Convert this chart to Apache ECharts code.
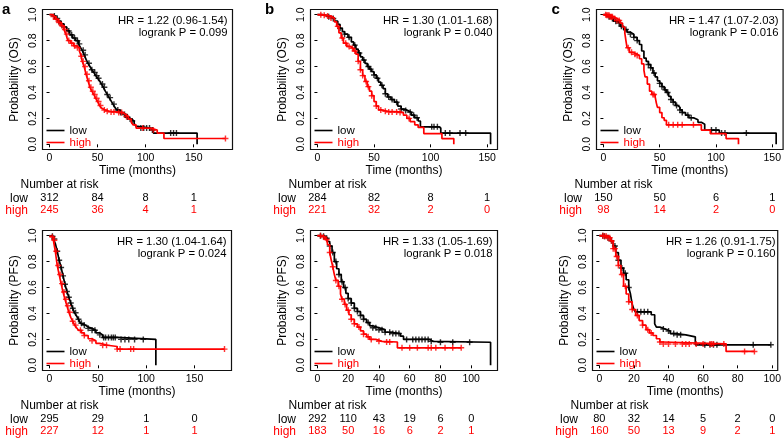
<!DOCTYPE html>
<html><head><meta charset="utf-8">
<script src="https://cdn.jsdelivr.net/npm/echarts@6/dist/echarts.min.js"></script>
<style>html,body{margin:0;padding:0;background:#fff}#chart{width:784px;height:439px}</style>
</head><body><div id="chart"></div>
<script>
// ---------------- DATA ----------------
const yTicks = [0, 0.2, 0.4, 0.6, 0.8, 1.0];
const yTitleOS = 'Probability (OS)';
const yTitlePFS = 'Probability (PFS)';
const xTitle = 'Time (months)';

// Panel a (OS)
const osA_low = [[0,1],[3,0.99],[6,0.97],[9,0.95],[12,0.93],[15,0.905],[18,0.875],[21,0.845],[24,0.82],[27,0.8],[30,0.775],[32,0.75],[34,0.725],[36,0.69],[38,0.655],[40,0.625],[42,0.6],[44,0.575],[46,0.555],[48,0.53],[50,0.51],[52,0.49],[54,0.465],[56,0.44],[58,0.41],[60,0.385],[62,0.36],[64,0.335],[66,0.31],[68,0.285],[70,0.265],[73,0.245],[76,0.23],[79,0.21],[82,0.195],[85,0.18],[88,0.16],[90,0.14],[92,0.125],[105,0.11],[108,0.087],[153.5,0]];
const osA_high = [[0,1],[3,0.985],[6,0.965],[9,0.94],[12,0.915],[15,0.885],[17,0.85],[19,0.8],[22,0.78],[25,0.76],[28,0.745],[31,0.72],[33,0.68],[34,0.64],[36,0.6],[38,0.54],[40,0.49],[42,0.44],[44,0.41],[46,0.385],[48,0.355],[50,0.33],[52,0.3],[54,0.28],[56,0.265],[58,0.255],[62,0.25],[70,0.245],[76,0.23],[79,0.215],[82,0.195],[85,0.17],[87,0.15],[90,0.125],[105,0.11],[112,0.087],[119,0.045],[183,0.045]];
const osA_lowCensor = [5,8,12,15,20,23,26,29,31,35,37,41,44,47,49,51,55,57,60,63,67,71,74,78,81,86,95,98,101,104,107,126,129,132];
const osA_highCensor = [4,7,10,13,16,18,20,23,26,29,33,35,37,39,41,43,45,47,49,51,53,57,60,64,67,72,75,80,97,108,183];
const osA_ticks = [0,50,100,150];
const osA_riskLow = [312,84,8,1];
const osA_riskHigh = [245,36,4,1];
const osA_stats = ['HR = 1.22 (0.96-1.54)','logrank P = 0.099'];

// Panel b (OS)
const osB_low = [[0,1],[4,0.995],[8,0.985],[12,0.97],[15,0.95],[18,0.925],[20,0.895],[22,0.87],[24,0.85],[27,0.825],[30,0.79],[32,0.765],[34,0.735],[36,0.705],[38,0.675],[40,0.65],[42,0.625],[44,0.6],[46,0.58],[48,0.56],[50,0.535],[52,0.51],[54,0.48],[56,0.455],[58,0.43],[60,0.39],[62,0.365],[65,0.345],[68,0.325],[71,0.295],[74,0.272],[77,0.26],[80,0.248],[83,0.225],[86,0.205],[89,0.18],[91,0.135],[107,0.125],[109,0.087],[153,0]];
const osB_high = [[0,1],[4,0.995],[8,0.99],[12,0.975],[15,0.945],[17,0.91],[19,0.86],[21,0.82],[23,0.78],[26,0.755],[29,0.74],[32,0.72],[34,0.695],[36,0.64],[38,0.575],[40,0.53],[42,0.485],[44,0.445],[46,0.41],[48,0.375],[50,0.33],[52,0.295],[54,0.265],[57,0.255],[62,0.25],[72,0.245],[76,0.225],[79,0.2],[82,0.175],[86,0.15],[89,0.13],[94,0.083],[110,0.044],[120.5,0]];
const osB_lowCensor = [10,14,20,24,28,33,37,41,45,47,50,53,57,60,63,66,70,74,78,82,85,88,101,103,106,113,117,126,131];
const osB_highCensor = [3,6,9,12,18,22,25,28,31,33,36,38,40,43,45,48,52,56,60,63,66,70,73,81];
const osB_ticks = [0,50,100,150];
const osB_riskLow = [284,82,8,1];
const osB_riskHigh = [221,32,2,0];
const osB_stats = ['HR = 1.30 (1.01-1.68)','logrank P = 0.040'];

// Panel c (OS)
const osC_low = [[0,1],[3,0.985],[6,0.97],[9,0.95],[12,0.935],[15,0.91],[18,0.885],[21,0.865],[24,0.85],[27,0.825],[30,0.8],[32,0.77],[34,0.72],[36,0.665],[38,0.64],[40,0.615],[42,0.59],[44,0.55],[46,0.52],[48,0.49],[50,0.47],[52,0.445],[54,0.42],[56,0.4],[58,0.37],[60,0.345],[62,0.325],[64,0.3],[66,0.285],[68,0.265],[70,0.245],[73,0.225],[76,0.205],[80,0.19],[84,0.17],[87,0.155],[90,0.11],[103,0.087],[153.5,0]];
const osC_high = [[0,1],[3,0.995],[6,0.985],[9,0.97],[12,0.955],[15,0.935],[17,0.905],[19,0.86],[20,0.8],[21,0.745],[23,0.71],[26,0.695],[30,0.685],[32,0.66],[34,0.62],[36,0.57],[37,0.52],[39,0.465],[41,0.41],[43,0.385],[46,0.365],[47,0.32],[48,0.285],[50,0.245],[52,0.205],[54,0.185],[56,0.15],[87,0.11],[95,0.082],[109,0.044],[120,0]];
const osC_lowCensor = [5,8,11,14,16,20,24,27,30,40,42,45,50,52,55,57,60,62,65,68,70,75,78,96,100,105,108,127];
const osC_highCensor = [2,3,4,5,6,7,8,10,12,14,22,25,28,30,44,45,58,62,66,70,80];
const osC_ticks = [0,50,100,150];
const osC_riskLow = [150,50,6,1];
const osC_riskHigh = [98,14,2,0];
const osC_stats = ['HR = 1.47 (1.07-2.03)','logrank P = 0.016'];

// Panel a (PFS)
const pfsA_low = [[0,1],[2,0.995],[4,0.975],[6,0.94],[8,0.88],[10,0.81],[12,0.755],[14,0.69],[16,0.625],[18,0.57],[20,0.525],[22,0.48],[24,0.44],[26,0.405],[28,0.38],[30,0.355],[32,0.325],[34,0.31],[37,0.295],[40,0.285],[44,0.27],[48,0.25],[52,0.235],[55,0.215],[70,0.2],[110,0]];
const pfsA_high = [[0,1],[2,0.99],[4,0.965],[6,0.88],[8,0.77],[10,0.7],[12,0.63],[14,0.565],[16,0.51],[18,0.46],[20,0.41],[22,0.37],[24,0.34],[26,0.31],[28,0.29],[30,0.27],[33,0.25],[36,0.23],[40,0.205],[44,0.19],[48,0.17],[52,0.155],[60,0.145],[70,0.125],[181,0.125]];
const pfsA_lowCensor = [3,5,8,10,12,14,16,18,20,22,24,27,30,33,36,40,44,47,52,56,58,61,64,66,68,74,78,82,88,97];
const pfsA_highCensor = [3,5,7,9,11,13,15,17,19,21,24,27,32,36,44,55,59,70,73,84,87,181];
const pfsA_ticks = [0,50,100,150];
const pfsA_riskLow = [295,29,1,0];
const pfsA_riskHigh = [227,12,1,1];
const pfsA_stats = ['HR = 1.30 (1.04-1.64)','logrank P = 0.024'];

// Panel b (PFS)
const pfsB_low = [[0,1],[3,0.995],[5,0.98],[6.5,0.955],[8,0.92],[9.5,0.87],[11,0.8],[12.5,0.745],[14,0.7],[15.5,0.645],[17,0.6],[18.5,0.555],[20,0.515],[22,0.48],[24,0.44],[26,0.415],[28,0.385],[30,0.355],[32,0.33],[34,0.305],[36,0.29],[40,0.275],[44,0.255],[48,0.245],[54,0.225],[56,0.2],[73,0.185],[75,0.178],[112.6,0]];
const pfsB_high = [[0,1],[3,0.99],[5,0.97],[6.5,0.93],[8,0.87],[9,0.81],[10,0.76],[11,0.7],[12,0.655],[13.5,0.61],[15,0.55],[16,0.51],[17.5,0.47],[19,0.425],[20.5,0.39],[22,0.355],[24,0.32],[26,0.295],[28,0.265],[30,0.24],[32,0.22],[34,0.2],[38,0.185],[42,0.18],[52,0.135],[93.5,0.135]];
const pfsB_lowCensor = [2,4,6,8,10,12,14,16,18,20,22,24,26,28,30,33,36,38,40,42,44,47,49,51,53,58,62,64,66,68,70,72,74,80,88,99];
const pfsB_highCensor = [2,4,6,8,10,12,14,16,18,20,22,24,27,30,33,35,40,45,47,55,60,65,72,74,77,83,88,93.5];
const pfsB_ticks = [0,20,40,60,80,100];
const pfsB_riskLow = [292,110,43,19,6,0];
const pfsB_riskHigh = [183,50,16,6,2,1];
const pfsB_stats = ['HR = 1.33 (1.05-1.69)','logrank P = 0.018'];

// Panel c (PFS)
const pfsC_low = [[0,1],[3,0.995],[5,0.985],[6.5,0.96],[8,0.92],[9.5,0.87],[11,0.81],[12.5,0.75],[14,0.71],[15.5,0.66],[17,0.6],[18,0.55],[19,0.47],[20,0.43],[21,0.413],[30,0.39],[32,0.32],[33,0.295],[35,0.28],[38,0.265],[41,0.245],[44,0.235],[50,0.22],[55.5,0.158],[99.2,0.158]];
const pfsC_high = [[0,1],[3,0.995],[5,0.985],[6.5,0.96],[8,0.9],[9.5,0.84],[11,0.77],[12.5,0.7],[14,0.61],[15.5,0.55],[17,0.49],[19,0.43],[21,0.385],[23,0.345],[25,0.31],[27,0.275],[29,0.25],[31,0.23],[33,0.205],[35,0.18],[36.5,0.165],[73.3,0.107],[89.7,0.107]];
const pfsC_lowCensor = [2,3,5,7,9,11,13,15,17,22,24,26,28,37,40,43,45,47,61,64,66,68,89,99.2];
const pfsC_highCensor = [2,3,4,5,6,7,8,9,10,11,13,15,17,19,22,25,28,30,35,37,40,44,48,50,52,56,60,64,65,66,72,84,89.7];
const pfsC_ticks = [0,20,40,60,80,100];
const pfsC_riskLow = [80,32,14,5,2,0];
const pfsC_riskHigh = [160,50,13,9,2,1];
const pfsC_stats = ['HR = 1.26 (0.91-1.75)','logrank P = 0.160'];

// ---------------- LAYOUT / BUILD ----------------
const FONT = '"Liberation Sans", Arial, Helvetica, sans-serif';
const RED = '#ff0000';
const layouts = [
  {left:42.5, top:9.5, width:190, height:140, letter:'a', lx:2, ly:10},
  {left:310.5, top:9.5, width:187, height:140, letter:'b', lx:265, ly:10},
  {left:596.5, top:9.5, width:187, height:140, letter:'c', lx:551.5, ly:10},
  {left:42.5, top:230.5, width:189, height:140},
  {left:310.5, top:230.5, width:187, height:140},
  {left:592.5, top:230.5, width:188, height:140}
];
const panels = [
  {low:osA_low, high:osA_high, lowC:osA_lowCensor, highC:osA_highCensor, ticks:osA_ticks, rl:osA_riskLow, rh:osA_riskHigh, stats:osA_stats, ylab:yTitleOS},
  {low:osB_low, high:osB_high, lowC:osB_lowCensor, highC:osB_highCensor, ticks:osB_ticks, rl:osB_riskLow, rh:osB_riskHigh, stats:osB_stats, ylab:yTitleOS},
  {low:osC_low, high:osC_high, lowC:osC_lowCensor, highC:osC_highCensor, ticks:osC_ticks, rl:osC_riskLow, rh:osC_riskHigh, stats:osC_stats, ylab:yTitleOS},
  {low:pfsA_low, high:pfsA_high, lowC:pfsA_lowCensor, highC:pfsA_highCensor, ticks:pfsA_ticks, rl:pfsA_riskLow, rh:pfsA_riskHigh, stats:pfsA_stats, ylab:yTitlePFS},
  {low:pfsB_low, high:pfsB_high, lowC:pfsB_lowCensor, highC:pfsB_highCensor, ticks:pfsB_ticks, rl:pfsB_riskLow, rh:pfsB_riskHigh, stats:pfsB_stats, ylab:yTitlePFS},
  {low:pfsC_low, high:pfsC_high, lowC:pfsC_lowCensor, highC:pfsC_highCensor, ticks:pfsC_ticks, rl:pfsC_riskLow, rh:pfsC_riskHigh, stats:pfsC_stats, ylab:yTitlePFS}
];
const CROSS = 'path://M0,3.8L10,3.8L10,6.2L0,6.2Z M3.8,0L6.2,0L6.2,10L3.8,10Z';

function survAt(curve, t) {
  let s = curve[0][1];
  for (const p of curve) { if (p[0] <= t) s = p[1]; else break; }
  return s;
}
function txt(x, y, text, opt) {
  opt = opt || {};
  const align = opt.align || 'left';
  return {type:'text', x:x, y:y, silent:true, z:100,
    style:{text:text, fill:opt.color || '#000', font:opt.font || ('11.3px ' + FONT),
      align:align, textAlign:align, verticalAlign:'middle', textVerticalAlign:'middle'}};
}

const grid = [], xAxis = [], yAxis = [], series = [], legend = [], graphic = [];
panels.forEach((p, i) => {
  const L = layouts[i];
  const B = L.top + L.height, R = L.left + L.width;
  grid.push({left:L.left, top:L.top, width:L.width, height:L.height, show:true,
    borderColor:'#111', borderWidth:1.2, backgroundColor:'rgba(0,0,0,0)'});
  const tmax = Math.max(...p.low.map(d => d[0]), ...p.high.map(d => d[0]), ...p.lowC, ...p.highC);
  const xmin = -0.04 * tmax, xmax = 1.04 * tmax;
  xAxis.push({gridIndex:i, type:'value', min:xmin, max:xmax, position:'bottom',
    axisLine:{show:false}, splitLine:{show:false},
    axisTick:{show:true, length:3, customValues:p.ticks, lineStyle:{color:'#000', width:1}},
    axisLabel:{customValues:p.ticks, fontSize:10.5, color:'#000', margin:9, verticalAlign:'middle',
      fontFamily:FONT, formatter:v => String(v)},
    name:xTitle, nameLocation:'middle', nameGap:12.5,
    nameTextStyle:{fontSize:12, color:'#000', fontFamily:FONT, verticalAlign:'top'}});
  xAxis.push({gridIndex:i, type:'value', min:xmin, max:xmax, position:'bottom', offset:48.8,
    axisLine:{show:false}, axisTick:{show:false}, splitLine:{show:false},
    axisLabel:{customValues:p.ticks, fontSize:11, color:'#000', margin:0, verticalAlign:'middle',
      fontFamily:FONT, formatter:v => String(p.rl[p.ticks.indexOf(v)])}});
  xAxis.push({gridIndex:i, type:'value', min:xmin, max:xmax, position:'bottom', offset:60.8,
    axisLine:{show:false}, axisTick:{show:false}, splitLine:{show:false},
    axisLabel:{customValues:p.ticks, fontSize:11, color:RED, margin:0, verticalAlign:'middle',
      fontFamily:FONT, formatter:v => String(p.rh[p.ticks.indexOf(v)])}});
  yAxis.push({gridIndex:i, type:'value', min:-0.04, max:1.04,
    axisLine:{show:false}, splitLine:{show:false},
    axisTick:{show:true, length:3, customValues:yTicks, lineStyle:{color:'#000', width:1}},
    axisLabel:{customValues:yTicks, rotate:90, fontSize:10.5, color:'#000', margin:4,
      fontFamily:FONT, formatter:v => v.toFixed(1)},
    name:p.ylab, nameLocation:'middle', nameGap:22,
    nameTextStyle:{fontSize:12, color:'#000', fontFamily:FONT}});

  series.push({type:'line', name:'low', xAxisIndex:i*3, yAxisIndex:i, data:p.low, step:'end',
    showSymbol:false, symbol:'none', lineStyle:{color:'#000', width:1.7}, itemStyle:{color:'#000'}, z:2, silent:true});
  series.push({type:'scatter', name:'low', xAxisIndex:i*3, yAxisIndex:i,
    data:p.lowC.map(t => [t, survAt(p.low, t)]), symbol:CROSS, symbolSize:6,
    itemStyle:{color:'#000'}, z:3, silent:true});
  series.push({type:'line', name:'high', xAxisIndex:i*3, yAxisIndex:i, data:p.high, step:'end',
    showSymbol:false, symbol:'none', lineStyle:{color:RED, width:1.7}, itemStyle:{color:RED}, z:4, silent:true});
  series.push({type:'scatter', name:'high', xAxisIndex:i*3, yAxisIndex:i,
    data:p.highC.map(t => [t, survAt(p.high, t)]), symbol:CROSS, symbolSize:6,
    itemStyle:{color:RED}, z:5, silent:true});

  legend.push({left:L.left + 4, top:B - 25, orient:'vertical', icon:'rect', itemWidth:18, itemHeight:1.6,
    itemGap:0, padding:0, selectedMode:false,
    textStyle:{fontSize:11.5, lineHeight:11, fontFamily:FONT},
    data:[{name:'low', textStyle:{color:'#000'}}, {name:'high', textStyle:{color:RED}}]});

  graphic.push(txt(R - 5, L.top + 11, p.stats[0], {align:'right'}));
  graphic.push(txt(R - 5, L.top + 23, p.stats[1], {align:'right'}));
  graphic.push(txt(L.left - 22, B + 35.5, 'Number at risk', {font:'12px ' + FONT}));
  graphic.push(txt(L.left - 14.5, B + 48.8, 'low', {align:'right', font:'12px ' + FONT}));
  graphic.push(txt(L.left - 14.5, B + 60.8, 'high', {align:'right', font:'12px ' + FONT, color:RED}));
  if (L.letter) graphic.push(txt(L.lx, L.ly, L.letter, {font:'bold 15px ' + FONT}));
});

const chart = echarts.init(document.getElementById('chart'), null, {renderer:'canvas'});
chart.setOption({
  backgroundColor:'#ffffff',
  animation:false,
  textStyle:{fontFamily:FONT, color:'#000'},
  grid:grid, xAxis:xAxis, yAxis:yAxis, series:series, legend:legend, graphic:graphic
});
</script></body></html>
